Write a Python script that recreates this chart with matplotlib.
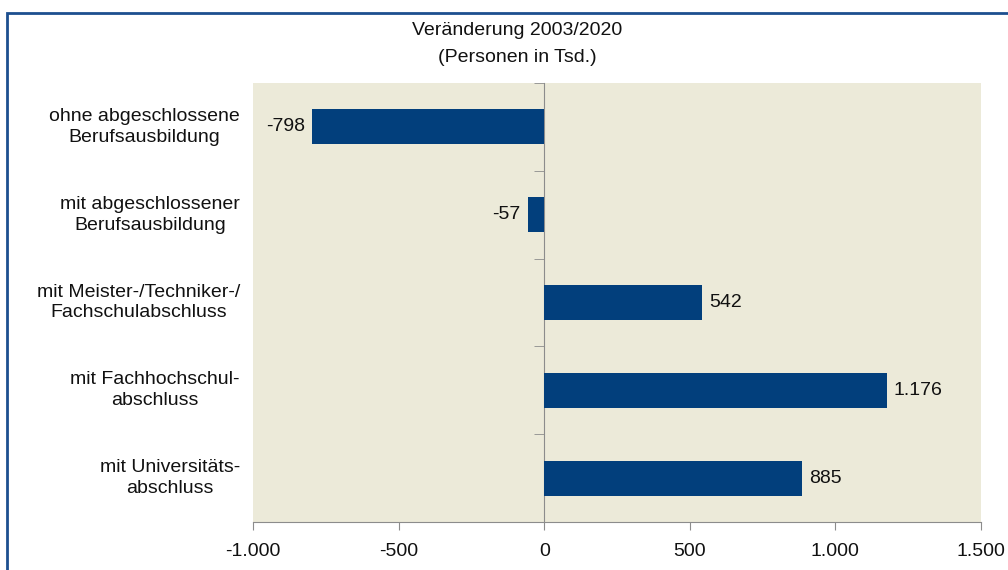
import numpy as np
import matplotlib
matplotlib.use("Agg")
import matplotlib.pyplot as plt
from matplotlib.patches import Rectangle
from matplotlib.ticker import FuncFormatter, FixedLocator

plt.rcParams['font.family'] = ['Liberation Sans', 'DejaVu Sans']

categories = ["ohne abgeschlossene\nBerufsausbildung",
              "mit abgeschlossener\nBerufsausbildung",
              "mit Meister-/Techniker-/\nFachschulabschluss",
              "mit Fachhochschul-\nabschluss",
              "mit Universitäts-\nabschluss"]
values = [-798, -57, 542, 1176, 885]
xticks = [-1000, -500, 0, 500, 1000, 1500]
title = "Veränderung 2003/2020\n(Personen in Tsd.)"

bar_color = '#023f7c'
bg_color = '#ecead9'
axis_color = '#8c8c8c'
fs = 14

def de_fmt(v, pos=None):
    return f"{int(v):,}".replace(",", ".")

fig = plt.figure(figsize=(10.08, 5.70), dpi=100)
ax = fig.add_axes([253/1008, 48/570, 728/1008, 439/570])
ax.set_facecolor(bg_color)

y = np.arange(len(categories))
bars = ax.barh(y, values, height=0.4, color=bar_color, zorder=3)
ax.bar_label(bars, labels=[de_fmt(v) for v in values], padding=5, fontsize=fs, color='#111111')

ax.set_xlim(-1000, 1500)
ax.set_ylim(len(categories) - 0.5, -0.5)
ax.set_xticks(xticks)
ax.xaxis.set_major_formatter(FuncFormatter(de_fmt))
ax.tick_params(axis='x', length=6, color=axis_color, labelsize=fs, pad=9, labelcolor='#111111')

# y axis sits at zero, ticks between categories
for s in ['top', 'right']:
    ax.spines[s].set_visible(False)
ax.spines['bottom'].set_color(axis_color)
ax.spines['left'].set_position(('data', 0))
ax.spines['left'].set_color(axis_color)
ax.yaxis.set_major_locator(FixedLocator(y))
ax.yaxis.set_minor_locator(FixedLocator(np.arange(-0.5, len(categories), 1.0)))
ax.tick_params(axis='y', which='major', length=0, labelleft=False)
ax.tick_params(axis='y', which='minor', length=7, color=axis_color, direction='out')

for yi, lab in zip(y, categories):
    ax.text(-0.018, yi, lab, transform=ax.get_yaxis_transform(), ha='right', va='center',
            multialignment='center', fontsize=fs, color='#111111', linespacing=1.3)

fig.text(0.513, 1 - 44/570, title, ha='center', va='center', fontsize=fs,
         color='#111111', linespacing=1.75)

# frame around the chart (cut off at right and bottom)
fig.patches.append(Rectangle((7/1008, -0.1), 1.2, 1 - 13/570 + 0.1, transform=fig.transFigure,
                             fill=False, edgecolor='#1d4f8f', linewidth=2))

fig.savefig("out.png", dpi=100)
